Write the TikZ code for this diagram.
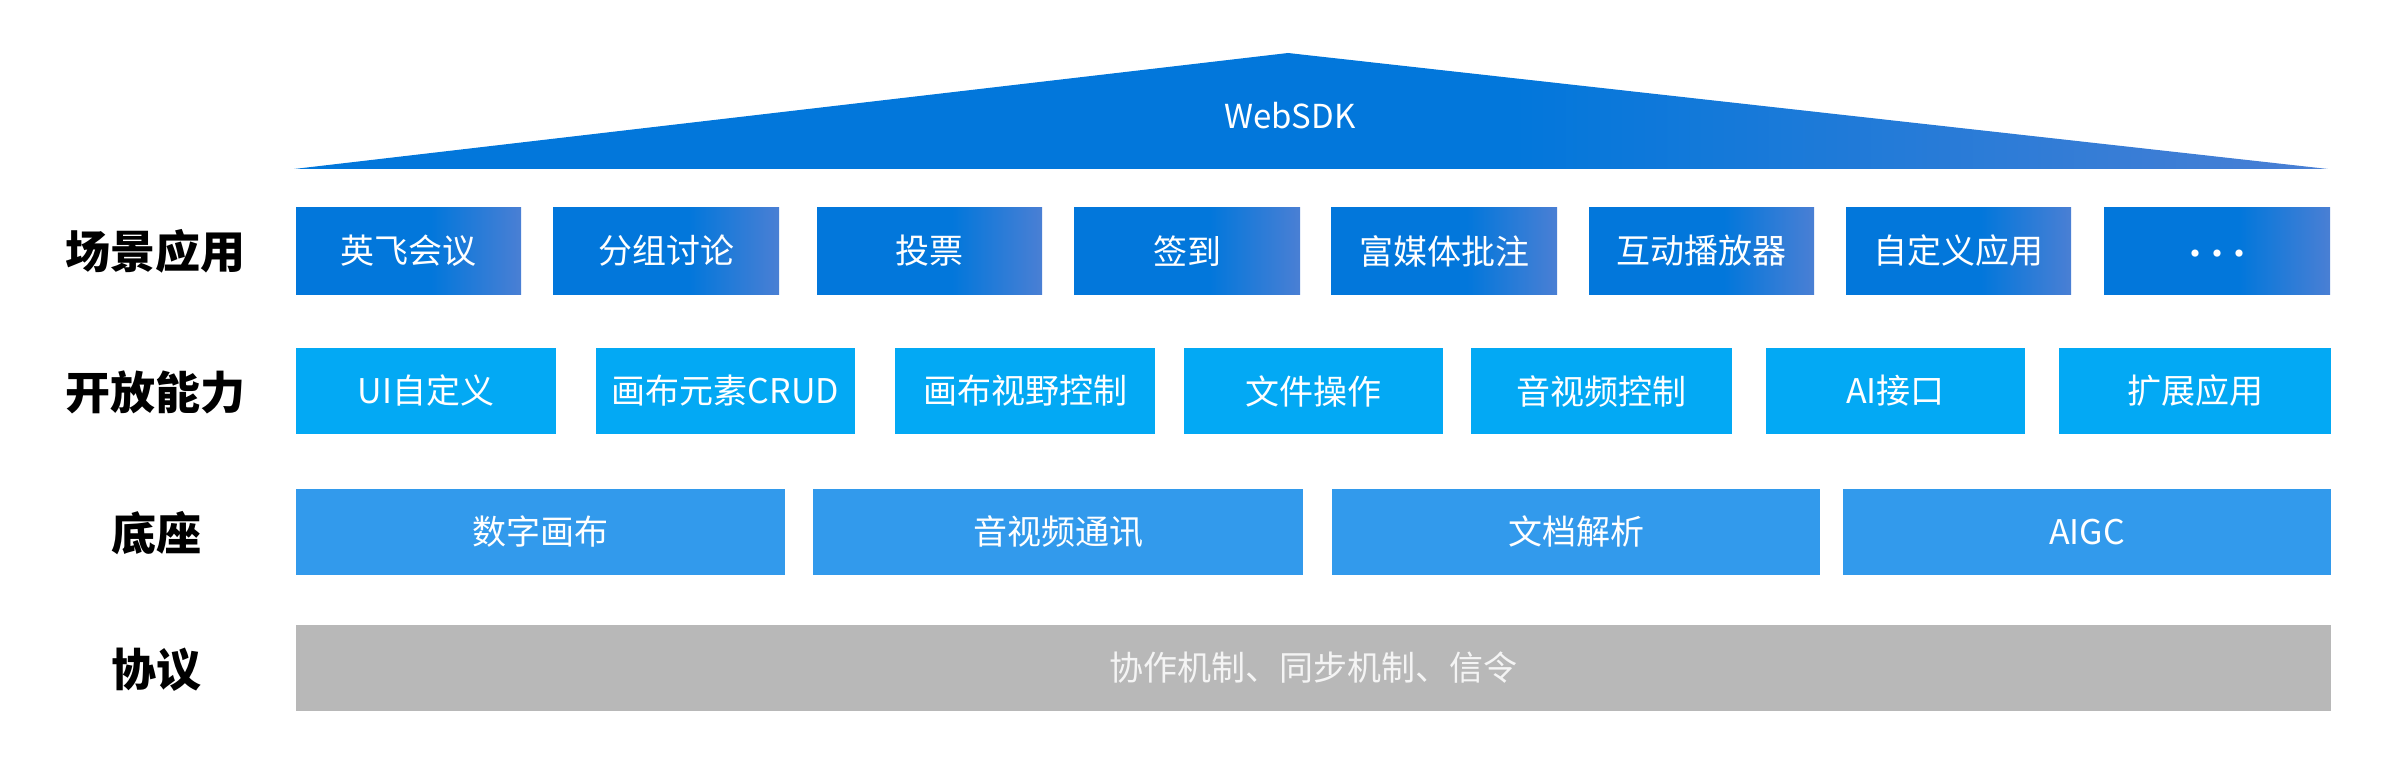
\documentclass[tikz,border=0pt]{standalone}
\usepackage{fontspec}
\setmainfont{Noto Sans CJK SC}
\newfontfamily\cjk{Noto Sans CJK SC}
\definecolor{topA}{HTML}{0277DB}
\definecolor{topB}{HTML}{4A7FD4}
\definecolor{capblue}{HTML}{03A9F4}
\definecolor{baseblue}{HTML}{329AEC}
\definecolor{protogray}{HTML}{B8B8B8}
\definecolor{prototext}{HTML}{F4F4F4}
\pgfdeclarehorizontalshading{rowone}{100bp}{color(0bp)=(topA); color(25bp)=(topA); color(55bp)=(topA); color(75bp)=(topB); color(100bp)=(topB)}
\tikzset{
  boxbase/.style={inner sep=0pt, outer sep=0pt, draw=none, text=white, font=\cjk\fontsize{34}{40}\selectfont, minimum height=86pt},
  scenebox/.style={boxbase, shade, shading=rowone},
  capbox/.style={boxbase, fill=capblue},
  basebox/.style={boxbase, fill=baseblue},
  protobox/.style={boxbase, fill=protogray, text=prototext},
  rowlabel/.style={font=\cjk\bfseries\fontsize{45}{50}\selectfont, text=black, inner sep=0pt}
}
\newcommand{\bx}[6]{\node[#1, minimum width={(#4-#3)*1pt}] (#2) at ({(#3+#4)/2}, #5) {#6};}
\begin{document}
\begin{tikzpicture}[x=1pt, y=-1pt]
\useasboundingbox (0,0) rectangle (2395,767);
% WebSDK roof
\shade[shading=rowone] (294,169) -- (1288,53) -- (2328,169) -- cycle;
\coordinate (apex) at (1288,53);
\node[font=\cjk\fontsize{33}{38}\selectfont, text=white, inner sep=0pt] (roof) at (1290,116) {WebSDK};
% labels
\node[rowlabel] (l1) at (155,251) {场景应用};
\node[rowlabel] (l2) at (155,392) {开放能力};
\node[rowlabel] (l3) at (156,533) {底座};
\node[rowlabel] (l4) at (156,670) {协议};
% row 1
\bx{scenebox}{s1}{296}{521}{251}{英飞会议}
\bx{scenebox}{s2}{553}{779}{251}{分组讨论}
\bx{scenebox}{s3}{817}{1042}{251}{投票}
\bx{scenebox}{s4}{1074}{1300}{251}{签到}
\bx{scenebox}{s5}{1331}{1557}{251}{富媒体批注}
\bx{scenebox}{s6}{1589}{1814}{251}{互动播放器}
\bx{scenebox}{s7}{1846}{2071}{251}{自定义应用}
\bx{scenebox}{s8}{2104}{2330}{251}{\raisebox{-16pt}[0pt][0pt]{·\hspace{-12pt}·\hspace{-12pt}·}}
% row 2
\bx{capbox}{c1}{296}{556}{391}{UI自定义}
\bx{capbox}{c2}{596}{855}{391}{画布元素CRUD}
\bx{capbox}{c3}{895}{1155}{391}{画布视野控制}
\bx{capbox}{c4}{1184}{1443}{391}{文件操作}
\bx{capbox}{c5}{1471}{1732}{391}{音视频控制}
\bx{capbox}{c6}{1766}{2025}{391}{AI接口}
\bx{capbox}{c7}{2059}{2331}{391}{扩展应用}
% row 3
\bx{basebox}{b1}{296}{785}{532}{数字画布}
\bx{basebox}{b2}{813}{1303}{532}{音视频通讯}
\bx{basebox}{b3}{1332}{1820}{532}{文档解析}
\bx{basebox}{b4}{1843}{2331}{532}{AIGC}
% row 4
\bx{protobox}{p1}{296}{2331}{668}{协作机制、同步机制、信令}
\end{tikzpicture}
\end{document}
